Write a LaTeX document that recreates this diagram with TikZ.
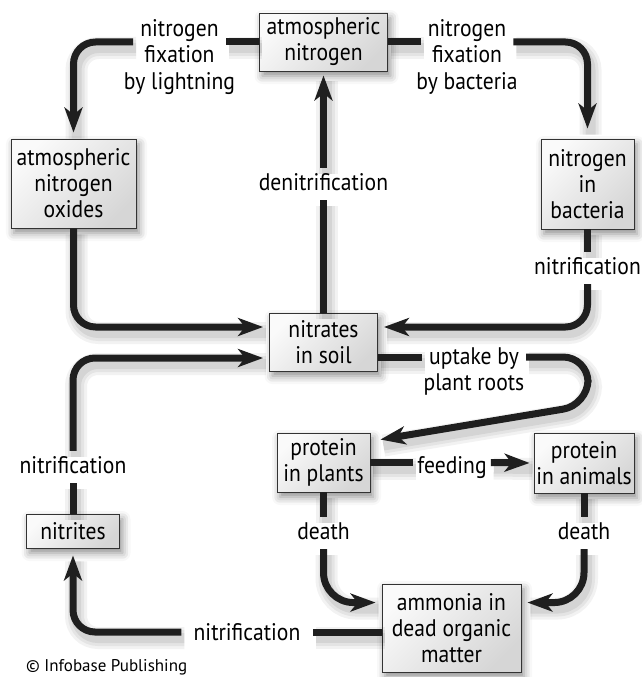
\documentclass[tikz,border=0pt]{standalone}
\usepackage{fontspec}
\setmainfont{PT Sans}[FakeStretch=0.9]
\newfontfamily\creditfont{PT Sans}
\usetikzlibrary{arrows.meta,shadows.blur}

\tikzset{
  txt/.style={font=\fontsize{24}{26}\selectfont},
  box/.style={txt, draw=black!80, line width=0.9pt, align=center, inner sep=2pt,
    top color=gray!4, bottom color=gray!32, shading angle=45,
    blur shadow={shadow xshift=3pt, shadow yshift=-5pt, shadow blur radius=8pt, shadow opacity=45}},
  lbl/.style={txt, anchor=base, inner xsep=7pt, inner ysep=5pt, text height=17pt, text depth=5pt},
  conn/.style={line width=7pt, draw=black!88, rounded corners=22pt,
    preaction={draw=black, draw opacity=0.05, line width=22pt, arrows=-, transform canvas={shift={(3pt,-6pt)}}},
    preaction={draw=black, draw opacity=0.06, line width=16pt, arrows=-, transform canvas={shift={(3pt,-6pt)}}},
    preaction={draw=black, draw opacity=0.07, line width=10pt, arrows=-, transform canvas={shift={(3pt,-6pt)}}}},
  tip/.style={-{Stealth[length=25pt,width=18pt,inset=7pt]}},
}

\begin{document}
\begin{tikzpicture}[x=1pt,y=-1pt]
\useasboundingbox (0,0) rectangle (642,677);

% boxes
\node[box, minimum width=128pt, minimum height=58pt] (atm) at (323.5,42) {atmospheric\\nitrogen};
\node[box, minimum width=125pt, minimum height=89pt] (oxides) at (73.5,183.5) {atmospheric\\nitrogen\\oxides};
\node[box, minimum width=93pt, minimum height=90pt] (bacteria) at (587.5,184) {nitrogen\\in\\bacteria};
\node[box, minimum width=108pt, minimum height=58pt] (nitrates) at (323.5,342) {nitrates\\in soil};
\node[box, minimum width=93pt, minimum height=59pt] (plants) at (323.5,462.5) {protein\\in plants};
\node[box, minimum width=100pt, minimum height=60pt] (animals) at (584,463) {protein\\in animals};
\node[box, minimum width=93pt, minimum height=34pt] (nitrites) at (73,531) {nitrites};
\node[box, minimum width=139pt, minimum height=88pt] (ammonia) at (451.5,628) {ammonia in\\dead organic\\matter};

% process labels
\node[lbl] (fixA1) at (179.5,37) {nitrogen};
\node[lbl] (fixA2) at (179.5,63) {fixation};
\node[lbl] (fixA3) at (179.5,89) {by lightning};
\node[lbl] (fixB1) at (467,37) {nitrogen};
\node[lbl] (fixB2) at (467,63) {fixation};
\node[lbl] (fixB3) at (467,89) {by bacteria};
\node[lbl] (denit) at (323.5,190) {denitrification};
\node[lbl] (nitR) at (587.5,274) {nitrification};
\node[lbl] (upt1) at (474,364) {uptake by};
\node[lbl] (upt2) at (474,390) {plant roots};
\node[lbl, inner xsep=4pt] (feed) at (452,473) {feeding};
\node[lbl] (nitL) at (73,473) {nitrification};
\node[lbl] (dthL) at (323.5,539) {death};
\node[lbl] (dthR) at (584,539) {death};
\node[lbl, inner xsep=12pt] (nitB) at (247,640) {nitrification};
\node[anchor=base west, inner sep=0pt, font=\creditfont\fontsize{17}{20}\selectfont] (credit) at (26,671) {© Infobase Publishing};

% helper points
\coordinate (ammOut) at ([yshift=-4pt]ammonia.west);
\coordinate (soilOut) at ([yshift=-15pt]nitrates.east);
\coordinate (uptTurn1) at (588,357);
\coordinate (uptTurn2) at (588,405);

% connectors
\draw[conn] (atm.west) -- (atm.west -| fixA1.east);
\draw[conn,tip] (atm.west -| fixA1.west) -| ([yshift=6pt]oxides.north);
\draw[conn] (atm.east) -- (atm.east -| fixB1.west);
\draw[conn,tip] (atm.east -| fixB1.east) -| ([yshift=10pt]bacteria.north);

\draw[conn] (nitrates.north) -- (denit.south);
\draw[conn,tip] (denit.north) -- ([yshift=-4pt]atm.south);

\draw[conn,tip] (oxides.south) |- ([xshift=-6pt,yshift=15pt]nitrates.west);
\draw[conn] (nitrites.north) -- (nitL.south);
\draw[conn,tip] (nitL.north) |- ([xshift=-6pt,yshift=-16pt]nitrates.west);
\draw[conn] (bacteria.south) -- (nitR.north);
\draw[conn,tip] (nitR.south) |- ([xshift=6pt,yshift=15pt]nitrates.east);

\draw[conn] (soilOut) -- (soilOut -| upt1.west);
\draw[conn,tip,rounded corners=25pt] (soilOut -| upt1.east) -- (uptTurn1) -- (uptTurn2) -- ([xshift=10pt,yshift=-7pt]plants.north east);

\draw[conn] (plants.east) -- (feed.west |- plants.east);
\draw[conn,tip] (feed.east |- plants.east) -- ([xshift=-4pt]animals.west);

\draw[conn] (plants.south) -- (dthL.north);
\draw[conn,tip,rounded corners=30pt] (dthL.south) |- ([xshift=-6pt,yshift=-19pt]ammonia.north west);
\draw[conn] (animals.south) -- (dthR.north);
\draw[conn,tip,rounded corners=30pt] (dthR.south) |- ([xshift=6pt,yshift=-19pt]ammonia.north east);

\draw[conn] (ammOut) -- (ammOut -| nitB.east);
\draw[conn,tip] (ammOut -| nitB.west) -| ([yshift=-7pt]nitrites.south);
\end{tikzpicture}
\end{document}
